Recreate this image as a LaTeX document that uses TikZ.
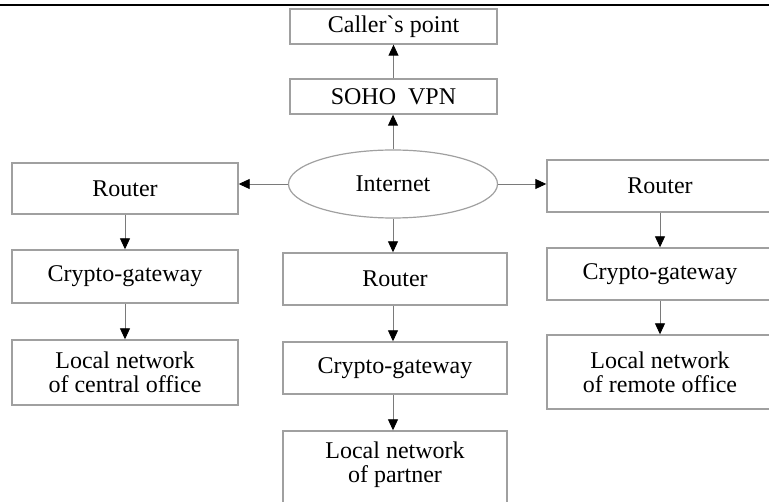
\documentclass[tikz,border=0pt]{standalone}
\usepackage{fontspec}
\setmainfont{Liberation Serif}
\usetikzlibrary{arrows.meta,shapes.geometric}
\definecolor{boxgray}{HTML}{A0A0A0}
\definecolor{linegray}{HTML}{7A7A7A}
\tikzset{
  box/.style={draw=boxgray, line width=1.4pt, inner sep=0pt, align=center,
    font=\fontsize{24}{24}\selectfont},
  cloud/.style={ellipse, draw=boxgray, line width=1.2pt, inner sep=0pt,
    minimum width=209pt, minimum height=68pt, font=\fontsize{24}{24}\selectfont},
  link/.style={draw=linegray, line width=0.9pt,
    -{Triangle[length=11pt,width=10pt,color=black]}},
}
\begin{document}
\begin{tikzpicture}[x=1pt,y=-1pt]
\useasboundingbox (0,0) rectangle (769,502);
\clip (0,0) rectangle (769,502);
\draw[line width=2.6pt] (0,5) -- (769,5);
% top
\node[box, minimum width=207pt, minimum height=35pt] (caller) at (393.5,26.5) {Caller\textasciigrave s point};
\node[box, minimum width=207pt, minimum height=35pt] (soho) at (393.5,96.5) {SOHO~ VPN};
\node[cloud] (inet) at (393,184) {Internet};
% left column
\node[box, minimum width=226pt, minimum height=51pt] (lrouter) at (125,188.5) {Router};
\node[box, minimum width=226pt, minimum height=53pt] (lcrypto) at (125,276.5) {Crypto-gateway};
\node[box, minimum width=226pt, minimum height=65pt] (llocal) at (125,372.5) {Local network\\of central office};
% centre column
\node[box, minimum width=224pt, minimum height=52pt] (crouter) at (395,279) {Router};
\node[box, minimum width=224pt, minimum height=52pt] (ccrypto) at (395,368) {Crypto-gateway};
\node[box, minimum width=224pt, minimum height=80pt] (clocal) at (395,471) {};
\node[font=\fontsize{24}{24}\selectfont, align=center, inner sep=0pt] (clocaltext) at (395,465) {Local network\\of partner};
% right column
\node[box, minimum width=226pt, minimum height=52pt] (rrouter) at (660,186) {Router};
\node[box, minimum width=226pt, minimum height=52pt] (rcrypto) at (660,274) {Crypto-gateway};
\node[box, minimum width=226pt, minimum height=74pt] (rlocal) at (660,372) {Local network\\of remote office};
% connectors
\draw[link] (inet.north) -- (inet.north |- soho.south);
\draw[link] (soho.north) -- (soho.north |- caller.south);
\draw[link] (inet.west) -- (inet.west -| lrouter.east);
\draw[link] (inet.east) -- (inet.east -| rrouter.west);
\draw[link] (inet.south) -- (inet.south |- crouter.north);
\draw[link] (lrouter.south) -- (lcrypto.north);
\draw[link] (lcrypto.south) -- (llocal.north);
\draw[link] (crouter.south -| inet.south) -- (inet.south |- ccrypto.north);
\draw[link] (ccrypto.south -| inet.south) -- (inet.south |- clocal.north);
\draw[link] (rrouter.south) -- (rcrypto.north);
\draw[link] (rcrypto.south) -- (rlocal.north);
\end{tikzpicture}
\end{document}
